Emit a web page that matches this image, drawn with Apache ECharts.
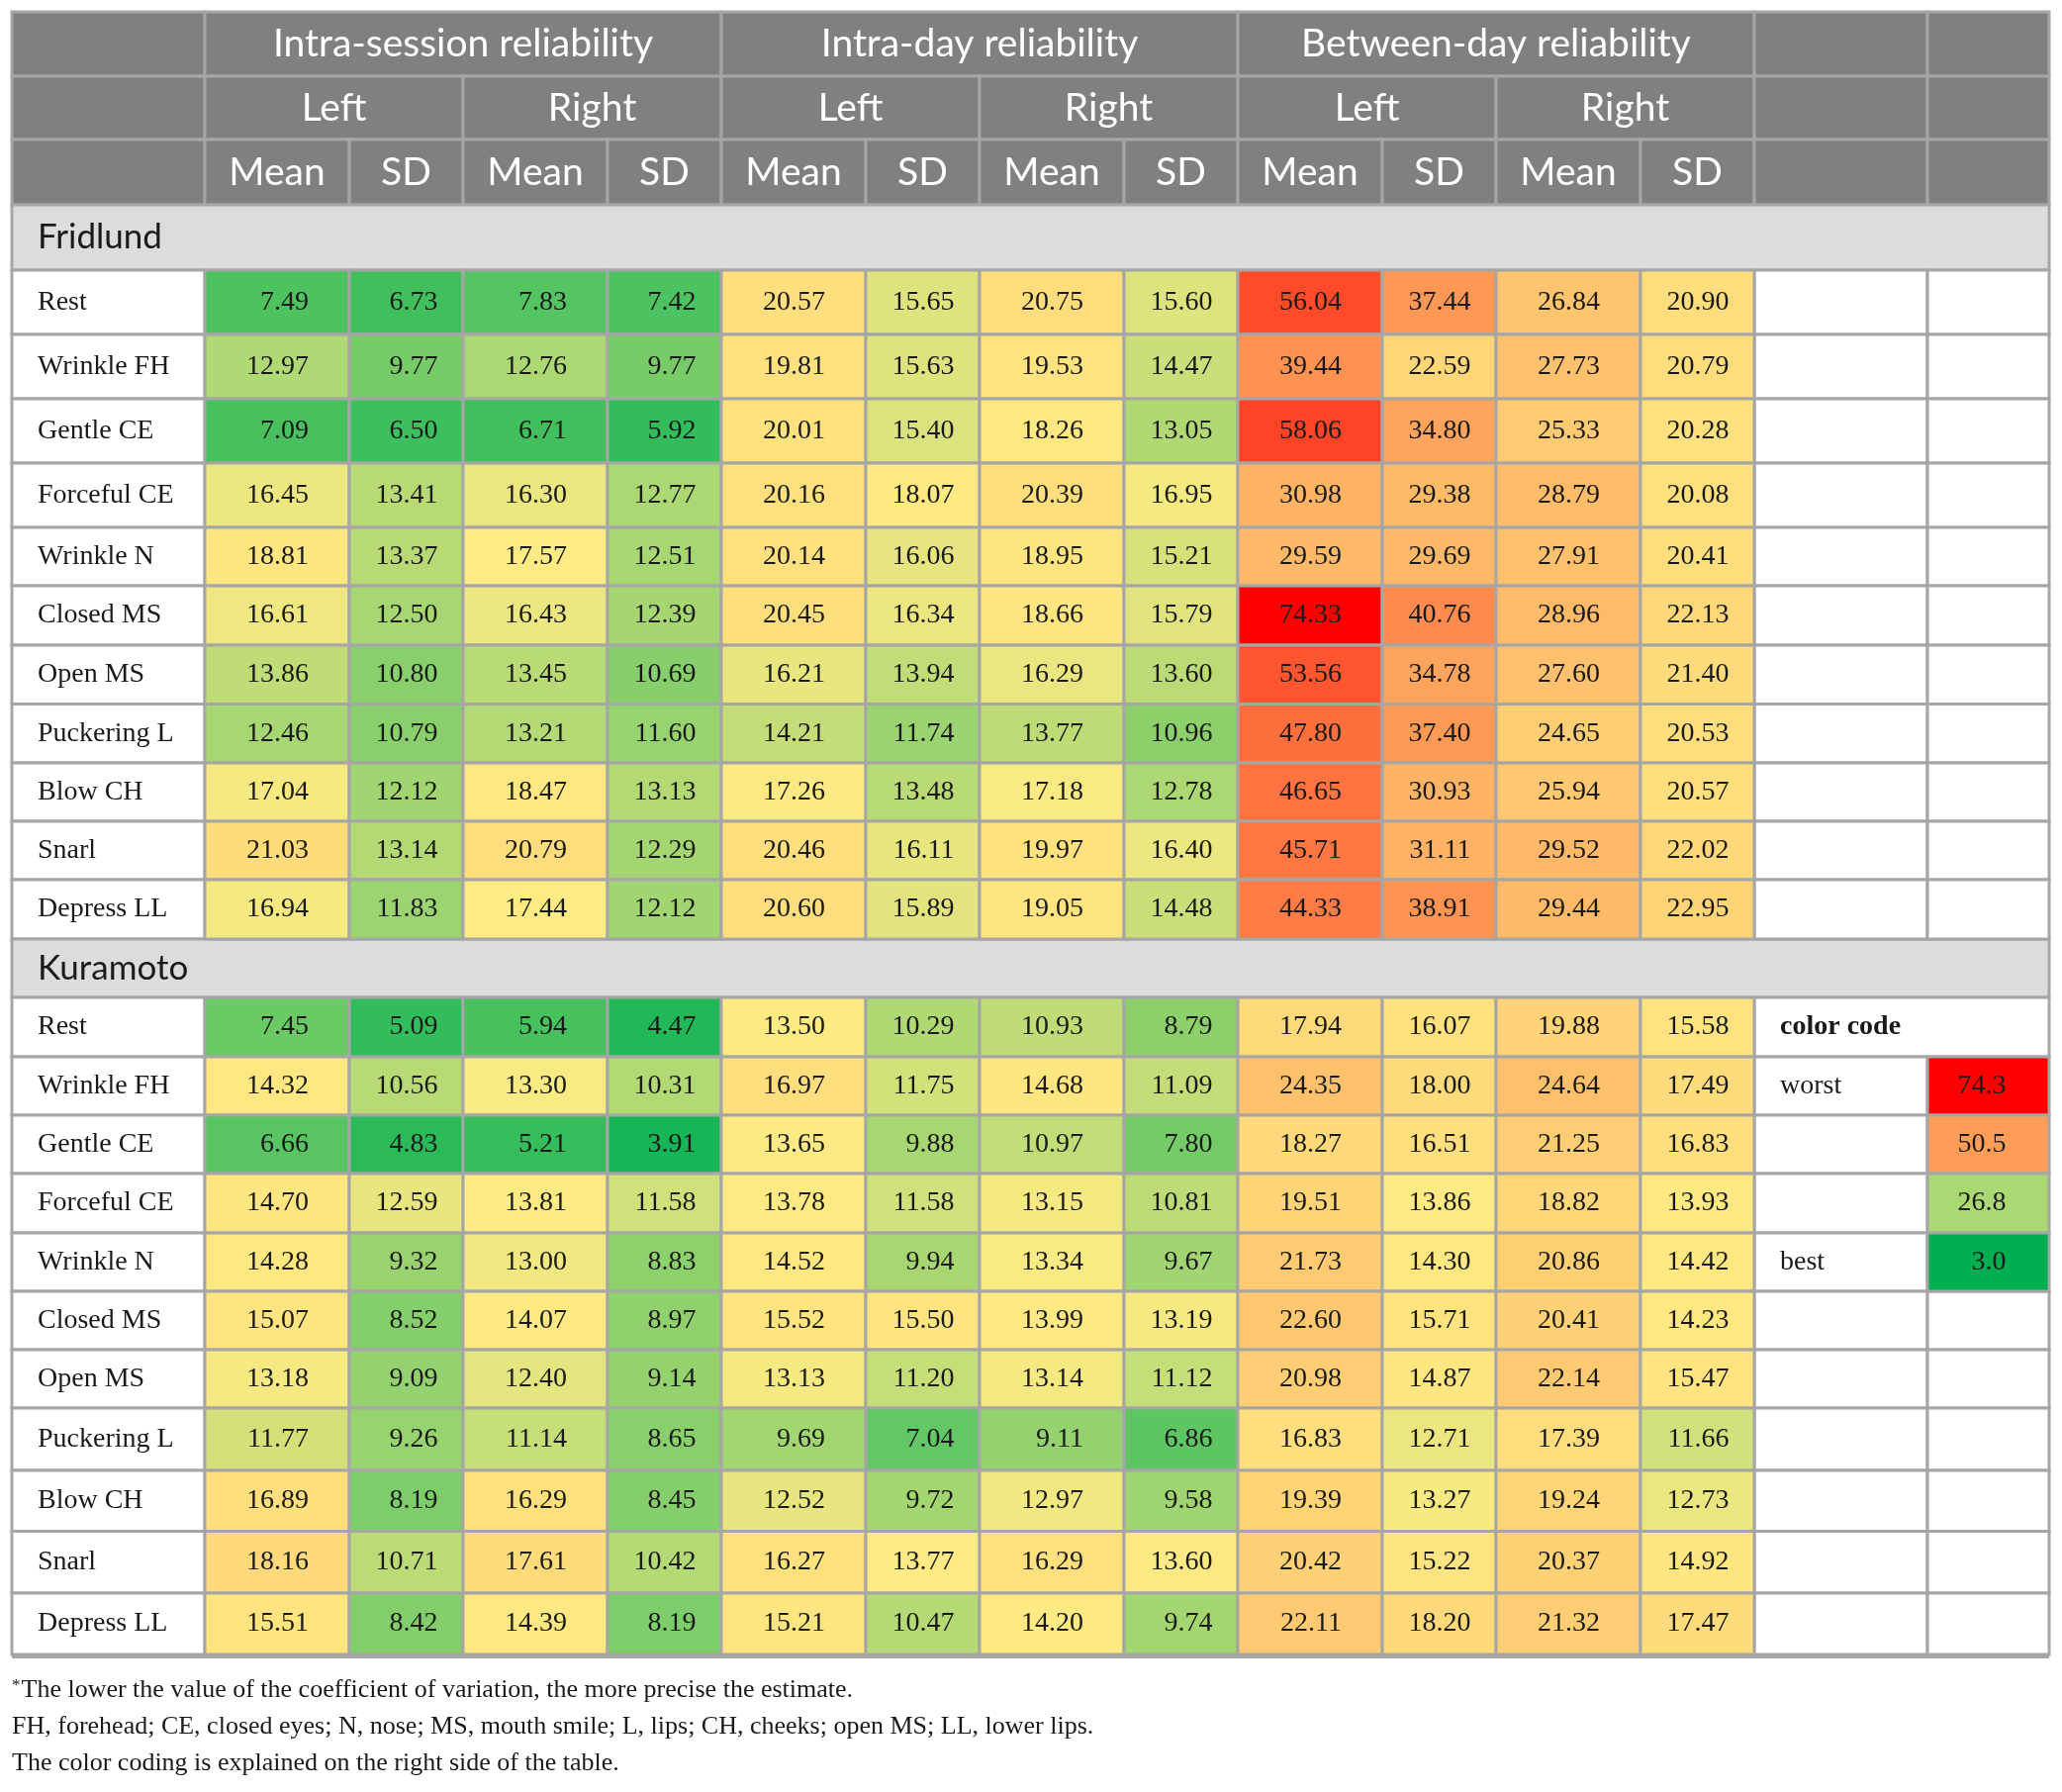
<!DOCTYPE html>
<html>
<head>
<meta charset="utf-8">
<script src="https://cdn.jsdelivr.net/npm/echarts@6/dist/echarts.min.js"></script>
<style>
  html, body { margin: 0; padding: 0; background: #fff; }
  #chart { width: 2084px; height: 1811px; }
</style>
</head>
<body>
<div id="chart"></div>
<script>
// ---- data ----
var SECTIONS = ['Intra-session reliability', 'Intra-day reliability', 'Between-day reliability'];
var SIDES = ['Left', 'Right'];
var STATS = ['Mean', 'SD'];
var GROUPS = ['Fridlund', 'Kuramoto'];
var MOVEMENTS = ['Rest', 'Wrinkle FH', 'Gentle CE', 'Forceful CE', 'Wrinkle N', 'Closed MS',
  'Open MS', 'Puckering L', 'Blow CH', 'Snarl', 'Depress LL'];

// columns: intra-session L mean/sd, R mean/sd, intra-day L/R, between-day L/R
var FRIDLUND = [
  [7.49, 6.73, 7.83, 7.42, 20.57, 15.65, 20.75, 15.60, 56.04, 37.44, 26.84, 20.90],
  [12.97, 9.77, 12.76, 9.77, 19.81, 15.63, 19.53, 14.47, 39.44, 22.59, 27.73, 20.79],
  [7.09, 6.50, 6.71, 5.92, 20.01, 15.40, 18.26, 13.05, 58.06, 34.80, 25.33, 20.28],
  [16.45, 13.41, 16.30, 12.77, 20.16, 18.07, 20.39, 16.95, 30.98, 29.38, 28.79, 20.08],
  [18.81, 13.37, 17.57, 12.51, 20.14, 16.06, 18.95, 15.21, 29.59, 29.69, 27.91, 20.41],
  [16.61, 12.50, 16.43, 12.39, 20.45, 16.34, 18.66, 15.79, 74.33, 40.76, 28.96, 22.13],
  [13.86, 10.80, 13.45, 10.69, 16.21, 13.94, 16.29, 13.60, 53.56, 34.78, 27.60, 21.40],
  [12.46, 10.79, 13.21, 11.60, 14.21, 11.74, 13.77, 10.96, 47.80, 37.40, 24.65, 20.53],
  [17.04, 12.12, 18.47, 13.13, 17.26, 13.48, 17.18, 12.78, 46.65, 30.93, 25.94, 20.57],
  [21.03, 13.14, 20.79, 12.29, 20.46, 16.11, 19.97, 16.40, 45.71, 31.11, 29.52, 22.02],
  [16.94, 11.83, 17.44, 12.12, 20.60, 15.89, 19.05, 14.48, 44.33, 38.91, 29.44, 22.95]
];
var KURAMOTO = [
  [7.45, 5.09, 5.94, 4.47, 13.50, 10.29, 10.93, 8.79, 17.94, 16.07, 19.88, 15.58],
  [14.32, 10.56, 13.30, 10.31, 16.97, 11.75, 14.68, 11.09, 24.35, 18.00, 24.64, 17.49],
  [6.66, 4.83, 5.21, 3.91, 13.65, 9.88, 10.97, 7.80, 18.27, 16.51, 21.25, 16.83],
  [14.70, 12.59, 13.81, 11.58, 13.78, 11.58, 13.15, 10.81, 19.51, 13.86, 18.82, 13.93],
  [14.28, 9.32, 13.00, 8.83, 14.52, 9.94, 13.34, 9.67, 21.73, 14.30, 20.86, 14.42],
  [15.07, 8.52, 14.07, 8.97, 15.52, 15.50, 13.99, 13.19, 22.60, 15.71, 20.41, 14.23],
  [13.18, 9.09, 12.40, 9.14, 13.13, 11.20, 13.14, 11.12, 20.98, 14.87, 22.14, 15.47],
  [11.77, 9.26, 11.14, 8.65, 9.69, 7.04, 9.11, 6.86, 16.83, 12.71, 17.39, 11.66],
  [16.89, 8.19, 16.29, 8.45, 12.52, 9.72, 12.97, 9.58, 19.39, 13.27, 19.24, 12.73],
  [18.16, 10.71, 17.61, 10.42, 16.27, 13.77, 16.29, 13.60, 20.42, 15.22, 20.37, 14.92],
  [15.51, 8.42, 14.39, 8.19, 15.21, 10.47, 14.20, 9.74, 22.11, 18.20, 21.32, 17.47]
];
var LEGEND_TITLE = 'color code';
var LEGEND_LABELS = ['worst', '', '', 'best'];
var LEGEND_VALUES = [74.3, 50.5, 26.8, 3.0];
var NOTES = [
  '{sup|*}The lower the value of the coefficient of variation, the more precise the estimate.',
  'FH, forehead; CE, closed eyes; N, nose; MS, mouth smile; L, lips; CH, cheeks; open MS; LL, lower lips.',
  'The color coding is explained on the right side of the table.'
];

// ---- layout (table geometry, px) ----
var COL_W = [195, 146, 115, 146, 115, 146, 115, 146, 115, 146, 115, 146, 115, 175, 123];
var ROW_H = [65, 64, 66,
  66, 65, 65, 65, 65, 59, 60, 59.6, 59.4, 59, 59, 60,
  59, 60, 59, 59, 60, 59, 59, 59, 63, 61.5, 62.5, 62];
var COL_X = [0], ROW_Y = [0];
COL_W.forEach(function (w) { COL_X.push(COL_X[COL_X.length - 1] + w); });
ROW_H.forEach(function (h) { ROW_Y.push(ROW_Y[ROW_Y.length - 1] + h); });
var TABLE_W = COL_X[COL_X.length - 1];
var TABLE_H = ROW_Y[ROW_Y.length - 1];

var SANS = 'Lato';
var SERIF = '"Liberation Serif"';
var LINE = '#a6a6a6';
var HEAD_BG = '#808080';
var GROUP_BG = '#dcdcdc';
var INK = '#1a1a1a';

// ---- colour scale: green (best) - yellow (median) - red (worst) ----
var GREEN = [0, 176, 80], YELLOW = [255, 235, 132], RED = [255, 0, 0];
function median(rows) {
  var v = [].concat.apply([], rows).slice().sort(function (a, b) { return a - b; });
  var n = v.length;
  return n % 2 ? v[(n - 1) / 2] : (v[n / 2 - 1] + v[n / 2]) / 2;
}
function scaleColors(min, mid, max) {
  var stops = [];
  for (var i = 0; i <= 200; i++) {
    var v = min + (max - min) * i / 200;
    var a, b, t;
    if (v <= mid) { a = GREEN; b = YELLOW; t = (v - min) / (mid - min); }
    else { a = YELLOW; b = RED; t = (v - mid) / (max - mid); }
    stops.push('rgb(' + a.map(function (c, j) { return Math.round(c + (b[j] - c) * t); }).join(',') + ')');
  }
  return stops;
}
var SCALE_MIN = LEGEND_VALUES[LEGEND_VALUES.length - 1];
var SCALE_MAX = LEGEND_VALUES[0];

// ---- static (text) cells ----
var CELLS = [];
function addCell(c0, c1, r, text, kind) { CELLS.push({ c0: c0, c1: c1, r: r, text: text, kind: kind }); }

// header rows 0..2
addCell(0, 1, 0, '', 'head');
SECTIONS.forEach(function (s, i) { addCell(1 + 4 * i, 5 + 4 * i, 0, s, 'head'); });
addCell(13, 14, 0, '', 'head'); addCell(14, 15, 0, '', 'head');
addCell(0, 1, 1, '', 'head');
SECTIONS.forEach(function (s, i) {
  SIDES.forEach(function (side, j) { addCell(1 + 4 * i + 2 * j, 3 + 4 * i + 2 * j, 1, side, 'head'); });
});
addCell(13, 14, 1, '', 'head'); addCell(14, 15, 1, '', 'head');
addCell(0, 1, 2, '', 'head');
for (var k = 0; k < 12; k++) addCell(1 + k, 2 + k, 2, STATS[k % 2], 'head');
addCell(13, 14, 2, '', 'head'); addCell(14, 15, 2, '', 'head');

var GROUP_ROW = [3, 15];
GROUPS.forEach(function (g, gi) {
  addCell(0, 15, GROUP_ROW[gi], g, 'group');
  MOVEMENTS.forEach(function (m, mi) { addCell(0, 1, GROUP_ROW[gi] + 1 + mi, m, 'label'); });
});
// legend column cells
for (var r = 4; r <= 14; r++) { addCell(13, 14, r, '', 'label'); addCell(14, 15, r, '', 'label'); }
addCell(13, 15, 16, LEGEND_TITLE, 'bold');
LEGEND_LABELS.forEach(function (l, i) { addCell(13, 14, 17 + i, l, 'label'); });
for (var r2 = 21; r2 <= 26; r2++) { addCell(13, 14, r2, '', 'label'); addCell(14, 15, r2, '', 'label'); }

function valueData(rows, rowStart) {
  var out = [];
  rows.forEach(function (row, mi) {
    row.forEach(function (v, k) { out.push([1 + k, rowStart + mi, v]); });
  });
  return out;
}
var LEGEND_DATA = LEGEND_VALUES.map(function (v, i) { return [14, 17 + i, v]; });

function cellRect(api, c0, c1, r) {
  var p0 = api.coord([COL_X[c0], ROW_Y[r]]);
  var p1 = api.coord([COL_X[c1], ROW_Y[r + 1]]);
  return { x: p0[0], y: p0[1], width: p1[0] - p0[0], height: p1[1] - p0[1] };
}

function renderStatic(params, api) {
  var c = CELLS[params.dataIndex];
  var rect = cellRect(api, c.c0, c.c1, c.r);
  var fill = c.kind === 'head' ? HEAD_BG : (c.kind === 'group' ? GROUP_BG : '#ffffff');
  var children = [{
    type: 'rect', shape: rect,
    style: { fill: fill, stroke: LINE, lineWidth: 3 }
  }];
  if (c.text) {
    var ts;
    if (c.kind === 'head') {
      ts = { x: rect.x + rect.width / 2, align: 'center', font: '39px ' + SANS, fill: '#ffffff' };
    } else if (c.kind === 'group') {
      ts = { x: rect.x + 26, align: 'left', font: '35px ' + SANS, fill: INK };
    } else if (c.kind === 'bold') {
      ts = { x: rect.x + 26, align: 'left', font: 'bold 28px ' + SERIF, fill: INK };
    } else {
      ts = { x: rect.x + 26, align: 'left', font: '28px ' + SERIF, fill: INK };
    }
    ts.text = c.text;
    ts.y = rect.y + rect.height / 2;
    ts.verticalAlign = 'middle';
    children.push({ type: 'text', style: ts });
  }
  return { type: 'group', children: children };
}

function makeValueRender(offset, digits) {
  return function (params, api) {
    var rect = cellRect(api, api.value(0), api.value(0) + 1, api.value(1));
    return {
      type: 'group',
      children: [
        { type: 'rect', shape: rect, style: { fill: api.visual('color'), stroke: LINE, lineWidth: 3 } },
        { type: 'text', style: {
          text: api.value(2).toFixed(digits),
          x: rect.x + rect.width / 2 + offset, y: rect.y + rect.height / 2,
          align: 'right', verticalAlign: 'middle',
          font: '28px ' + SERIF, fill: INK
        } }
      ]
    };
  };
}

var chart = echarts.init(document.getElementById('chart'), null, { renderer: 'canvas' });
chart.setOption({
  animation: false,
  backgroundColor: '#ffffff',
  grid: { left: 12, top: 12, width: TABLE_W, height: TABLE_H, show: false },
  xAxis: { type: 'value', min: 0, max: TABLE_W, show: false },
  yAxis: { type: 'value', min: 0, max: TABLE_H, inverse: true, show: false },
  visualMap: [
    { type: 'continuous', show: false, seriesIndex: 1, dimension: 2, min: SCALE_MIN, max: SCALE_MAX,
      inRange: { color: scaleColors(SCALE_MIN, median(FRIDLUND), SCALE_MAX) } },
    { type: 'continuous', show: false, seriesIndex: 2, dimension: 2, min: SCALE_MIN, max: SCALE_MAX,
      inRange: { color: scaleColors(SCALE_MIN, median(KURAMOTO), SCALE_MAX) } },
    { type: 'continuous', show: false, seriesIndex: 3, dimension: 2, min: SCALE_MIN, max: SCALE_MAX,
      inRange: { color: scaleColors(SCALE_MIN, median([LEGEND_VALUES]), SCALE_MAX) } }
  ],
  series: [
    { type: 'custom', renderItem: renderStatic, encode: { x: 0, y: 2 },
      data: CELLS.map(function (c) { return [c.c0, c.c1, c.r]; }) },
    { type: 'custom', renderItem: makeValueRender(32, 2), encode: { x: 0, y: 1 },
      data: valueData(FRIDLUND, GROUP_ROW[0] + 1) },
    { type: 'custom', renderItem: makeValueRender(32, 2), encode: { x: 0, y: 1 },
      data: valueData(KURAMOTO, GROUP_ROW[1] + 1) },
    { type: 'custom', renderItem: makeValueRender(18, 1), encode: { x: 0, y: 1 },
      data: LEGEND_DATA }
  ],
  graphic: NOTES.map(function (t, i) {
    return { type: 'text', left: 12, top: 1695 + i * 37,
      style: { text: t, font: '26px ' + SERIF, fill: INK,
        rich: { sup: { font: '17px ' + SERIF, fill: INK, verticalAlign: 'top', padding: [0, 1, 8, 0] } } } };
  }).concat([{ type: 'rect', left: 12, top: 1672, shape: { width: TABLE_W, height: 4 },
    style: { fill: LINE } }])
});
</script>
</body>
</html>
